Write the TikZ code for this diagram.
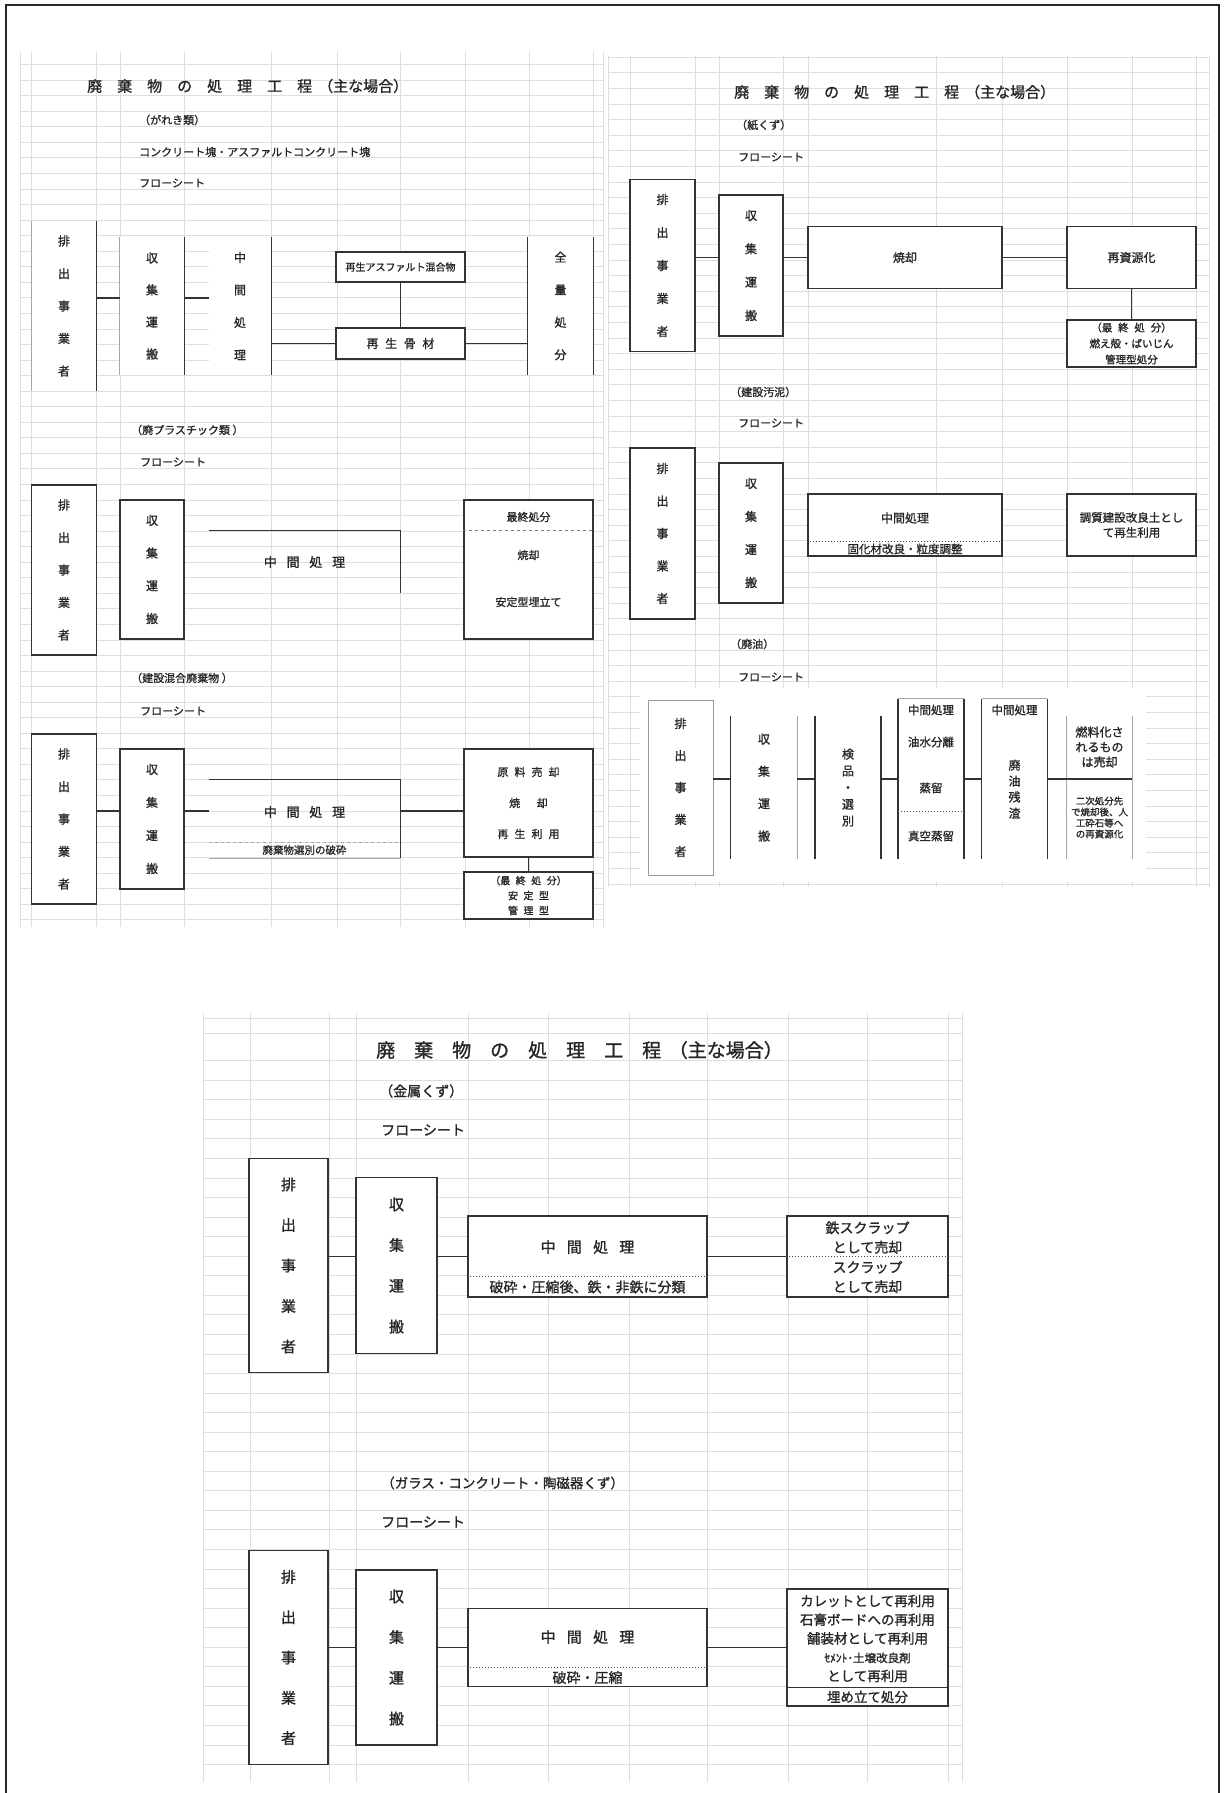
\documentclass[tikz,border=0pt]{standalone}
\usepackage{fontspec}
\newfontfamily\jp[FakeBold=1.2]{Noto Sans CJK JP}
\newcommand\tg{\hspace{1em}}
\newcommand\ws{\hspace{0.55em}}
\newcommand\ttltext{廃\tg 棄\tg 物\tg の\tg 処\tg 理\tg 工\tg 程\hspace{0.4em}（主な場合）}
\newcommand\chu{中\hspace{0.75em}間\hspace{0.75em}処\hspace{0.75em}理}
\tikzset{
  sheet/.style={draw=black!13, line width=0.7pt},
  box/.style={draw=black!80, line width=1.3pt, fill=white, inner sep=0pt, align=center, text=black!85},
  bare/.style={inner sep=0pt, align=center, text=black!85},
  side/.style={draw=black!80, line width=1.3pt},
  faint/.style={draw=black!35, line width=0.9pt},
  link/.style={draw=black!80, line width=1.6pt},
  divide/.style={draw=black!70, line width=1pt, dotted},
  fs/.style 2 args={font=\jp\fontsize{#1}{#2}\selectfont},
  lbl/.style={anchor=west, inner sep=0pt, text=black!85, fs={11}{13}},
  ttl/.style={anchor=west, inner sep=0pt, text=black!85, fs={15}{18}},
}
\begin{document}
\begin{tikzpicture}[x=1pt,y=-1pt]
\useasboundingbox (0,0) rectangle (1223,1793);
% spreadsheet cells
\foreach \k in {0,...,55}
\draw[sheet] (20,64.5+15.55*\k) -- (603,64.5+15.55*\k);
\foreach \x in {20,31,96,120,184,271,337,400,465,529,593,603}
\draw[sheet] (\x,52) -- (\x,927);
\foreach \k in {0,...,53}
\draw[sheet] (608,57.2+15.6*\k) -- (1209,57.2+15.6*\k);
\foreach \x in {608,630,695,719,783,808,936,1002,1067,1132,1196,1209}
\draw[sheet] (\x,56) -- (\x,887);
\fill[white] (640,688) rectangle (1146,882);
\foreach \k in {0,...,36}
\draw[sheet] (203,1060.6+19.55*\k) -- (962,1060.6+19.55*\k);
\foreach \y in {1018,1033}
\draw[sheet] (203,\y) -- (962,\y);
\foreach \x in {203,250,329,356,468,548,629,707,788,867,948,962}
\draw[sheet] (\x,1013) -- (\x,1782);
% frame
\draw[line width=2pt, black!85] (6,1793) -- (6,5) -- (1219,5) -- (1219,1793);
%%%% がれき類
\node[ttl] (ta) at (87,86) {\ttltext};
\node[lbl] (la1) at (139,120) {（がれき類）};
\node[lbl] (la2) at (139,152) {コンクリート塊・アスファルトコンクリート塊};
\node[lbl] (la3) at (139,183) {フローシート};
\node[bare, fill=white, minimum width=65, minimum height=170, fs={12}{32.5}] (a1) at (64,306) {排\\出\\事\\業\\者};
\draw[faint] (a1.north west) -- (a1.south west);
\draw[side] (a1.north east) -- (a1.south east);
\node[bare, fill=white, minimum width=64, minimum height=138, fs={12}{32}] (a2) at (152,306) {収\\集\\運\\搬};
\draw[faint] (a2.north west) -- (a2.south west);
\draw[side] (a2.north east) -- (a2.south east);
\node[bare, fill=white, minimum width=62, minimum height=138, fs={12}{32.5}] (a3) at (240,306) {中\\間\\処\\理};
\draw[side] (a3.north east) -- (a3.south east);
\node[box, minimum width=129, minimum height=30, fs={10}{12}] (a4) at (400.5,267) {再生アスファルト混合物};
\node[box, minimum width=129, minimum height=31, fs={12}{14}] (a5) at (400.5,343.5) {再\ws 生\ws 骨\ws 材};
\node[bare, fill=white, minimum width=65, minimum height=138, fs={12}{32.5}] (a6) at (560.5,306) {全\\量\\処\\分};
\draw[side] (a6.north west) -- (a6.south west) (a6.north east) -- (a6.south east);
\draw[link] ([yshift=8pt]a1.east) -- ([yshift=8pt]a2.west);
\draw[link] ([yshift=8pt]a2.east) -- ([yshift=8pt]a3.west);
\draw[link] (a3.east |- a5.west) -- (a5.west);
\draw[side] (a4.south) -- (a5.north);
\draw[link] (a5.east) -- (a6.west |- a5.east);
%%%% 廃プラスチック類
\node[lbl] (lb1) at (131,430) {（廃プラスチック類 ）};
\node[lbl] (lb2) at (140,462) {フローシート};
\node[box, minimum width=65, minimum height=170, fs={12}{32.5}] (b1) at (64,570) {排\\出\\事\\業\\者};
\node[box, minimum width=64, minimum height=139, fs={12}{32.7}] (b2) at (152,569.5) {収\\集\\運\\搬};
\node[bare, minimum width=191, minimum height=62, fs={13}{15}] (b3) at (304.5,562) {\chu};
\draw[side] (b3.north west) -- (b3.north east) -- (b3.south east);
\node[box, minimum width=129, minimum height=139] (b4) at (528.5,569.5) {};
\draw[side, dashed, black!50] ([yshift=-31pt]b4.north west) -- ([yshift=-31pt]b4.north east);
\node[bare, fs={11}{13}] (b4a) at (528.5,517) {最終処分};
\node[bare, fs={11}{13}] (b4b) at (528.5,555) {焼却};
\node[bare, fs={11}{13}] (b4c) at (528.5,602) {安定型埋立て};
%%%% 建設混合廃棄物
\node[lbl] (lc1) at (131,678) {（建設混合廃棄物 ）};
\node[lbl] (lc2) at (140,711) {フローシート};
\node[box, minimum width=65, minimum height=170, fs={12}{32.5}] (c1) at (64,819) {排\\出\\事\\業\\者};
\node[box, minimum width=64, minimum height=140, fs={12}{33}] (c2) at (152,819) {収\\集\\運\\搬};
\node[bare, minimum width=191, minimum height=78] (c3) at (304.5,819) {};
\draw[side] (c3.north west) -- (c3.north east) -- (c3.south east);
\draw[faint] (c3.south west) -- (c3.south east);
\draw[faint, dashed] ([yshift=16pt]c3.south west) -- ([yshift=16pt]c3.south east);
\node[bare, fs={13}{15}] (c3a) at (304.5,812) {\chu};
\node[bare, fs={10.5}{12}] (c3b) at (304.5,850) {廃棄物選別の破砕};
\node[box, minimum width=129, minimum height=108, fs={11}{31}] (c4) at (528.5,803) {原\ws 料\ws 売\ws 却\\焼\hspace{1.5em}却\\再\ws 生\ws 利\ws 用};
\node[box, minimum width=129, minimum height=47, fs={10}{15}] (c5) at (528.5,895.5) {（最\ws 終\ws 処\ws 分）\\安\ws 定\ws 型\\管\ws 理\ws 型};
\draw[link] ([yshift=8pt]c1.east) -- ([yshift=8pt]c2.west);
\draw[link] ([yshift=8pt]c2.east) -- ([yshift=8pt]c3.west);
\draw[link] ([yshift=8pt]c3.east) -- ([yshift=-8pt]c4.west);
\draw[side] (c4.south) -- (c5.north);
%%%% 紙くず
\node[ttl] (td) at (734,92) {\ttltext};
\node[lbl] (ld1) at (736,125) {（紙くず）};
\node[lbl] (ld2) at (738,157) {フローシート};
\node[box, minimum width=65, minimum height=172, fs={12}{33}] (d1) at (662.5,265.5) {排\\出\\事\\業\\者};
\node[box, minimum width=64, minimum height=141, fs={12}{33.3}] (d2) at (751,265.5) {収\\集\\運\\搬};
\node[box, minimum width=194, minimum height=62, fs={12}{14}] (d3) at (905,257.5) {焼却};
\node[box, minimum width=129, minimum height=62, fs={12}{14}] (d4) at (1131.5,257.5) {再資源化};
\node[box, minimum width=129, minimum height=47, fs={10.5}{16}] (d5) at (1131.5,343.5) {（最\ws 終\ws 処\ws 分）\\燃え殻・ばいじん\\管理型処分};
\draw[link] ([yshift=8pt]d1.east) -- ([yshift=8pt]d2.west);
\draw[link] ([yshift=8pt]d2.east) -- (d3.west);
\draw[link] (d3.east) -- (d4.west);
\draw[side] (d4.south) -- (d5.north);
%%%% 建設汚泥
\node[lbl] (le1) at (730,392) {（建設汚泥）};
\node[lbl] (le2) at (738,423) {フローシート};
\node[box, minimum width=65, minimum height=171, fs={12}{32.5}] (e1) at (662.5,533.5) {排\\出\\事\\業\\者};
\node[box, minimum width=64, minimum height=140, fs={12}{33}] (e2) at (751,533) {収\\集\\運\\搬};
\node[box, minimum width=194, minimum height=62] (e3) at (905,525) {};
\draw[divide] ([yshift=15pt]e3.south west) -- ([yshift=15pt]e3.south east);
\node[bare, fs={12}{14}] (e3a) at (905,518) {中間処理};
\node[bare, fs={11.5}{13}] (e3b) at (905,549) {固化材改良・粒度調整};
\node[box, minimum width=129, minimum height=62, fs={11.5}{15}] (e4) at (1131.5,525) {調質建設改良土とし\\て再生利用};
%%%% 廃油
\node[lbl] (lf1) at (730,644) {（廃油）};
\node[lbl] (lf2) at (738,677) {フローシート};
\node[box, draw=black!40, line width=0.9pt, minimum width=65, minimum height=175, fs={12}{32}] (f1) at (680.5,787.5) {排\\出\\事\\業\\者};
\node[bare, fill=white, minimum width=66, minimum height=143, fs={12}{32.3}] (f2) at (764,787.5) {収\\集\\運\\搬};
\draw[side] (f2.north west) -- (f2.south west);
\draw[faint] (f2.north east) -- (f2.south east);
\node[bare, fill=white, minimum width=65.5, minimum height=143, fs={12}{16.7}] (f3) at (848,787.5) {検\\品\\・\\選\\別};
\draw[side] (f3.north west) -- (f3.south west) (f3.north east) -- (f3.south east);
\node[bare, fill=white, minimum width=65.5, minimum height=160] (f4) at (931,779) {};
\draw[faint] (f4.north west) -- (f4.north east);
\draw[side] (f4.north west) -- (f4.south west) (f4.north east) -- (f4.south east);
\draw[divide] ([yshift=-113pt]f4.north west) -- ([yshift=-113pt]f4.north east);
\node[bare, fs={11.5}{13}] (f4a) at (931,710) {中間処理};
\node[bare, fs={11.5}{13}] (f4b) at (931,742) {油水分離};
\node[bare, fs={11.5}{13}] (f4c) at (931,788) {蒸留};
\node[bare, fs={11.5}{13}] (f4d) at (931,836) {真空蒸留};
\node[bare, fill=white, minimum width=65, minimum height=160] (f5) at (1014.5,779) {};
\draw[faint] (f5.north west) -- (f5.north east);
\draw[side] (f5.north west) -- (f5.south west) (f5.north east) -- (f5.south east);
\node[bare, fs={11.5}{13}] (f5a) at (1014.5,710) {中間処理};
\node[bare, fs={12}{16}] (f5b) at (1014.5,789) {廃\\油\\残\\渣};
\node[bare, fill=white, minimum width=65, minimum height=143] (f6) at (1099.5,787.5) {};
\draw[faint] (f6.north west) -- (f6.south west) (f6.north east) -- (f6.south east);
\node[bare, fs={12}{15}] (f6a) at (1099.5,747) {燃料化さ\\れるもの\\は売却};
\node[bare, fs={9.5}{11}] (f6b) at (1099.5,817.5) {二次処分先\\で焼却後、人\\工砕石等へ\\の再資源化};
\draw[link] ([yshift=8.5pt]f1.east) -- ([yshift=8.5pt]f2.west);
\draw[link] ([yshift=8.5pt]f2.east) -- ([yshift=8.5pt]f3.west);
\draw[link] ([yshift=8.5pt]f3.east) -- (f4.west);
\draw[link] (f4.east) -- (f5.west);
\draw[link] (f5.east) -- ([yshift=8.5pt]f6.east);
%%%% 金属くず
\node[ttl, fs={19}{21}] (tg) at (376,1050) {\ttltext};
\node[lbl, fs={14}{16}] (lg1) at (379,1091) {（金属くず）};
\node[lbl, fs={14}{16}] (lg2) at (381,1130) {フローシート};
\node[box, minimum width=79, minimum height=214, fs={15}{40.5}] (g1) at (288.5,1265.5) {排\\出\\事\\業\\者};
\node[box, minimum width=81, minimum height=176, fs={15}{40.7}] (g2) at (396.5,1265.5) {収\\集\\運\\搬};
\node[box, minimum width=239, minimum height=81] (g3) at (587.5,1256.5) {};
\draw[divide] ([yshift=21pt]g3.south west) -- ([yshift=21pt]g3.south east);
\node[bare, fs={15}{17}] (g3a) at (587.5,1247) {\chu};
\node[bare, fs={14}{16}] (g3b) at (587.5,1287) {破砕・圧縮後、鉄・非鉄に分類};
\node[box, minimum width=161, minimum height=81] (g4) at (867.5,1256.5) {};
\draw[divide] (g4.west) -- (g4.east);
\node[bare, fs={14}{19.5}] (g4a) at (867.5,1237.5) {鉄スクラップ\\として売却};
\node[bare, fs={14}{19.5}] (g4b) at (867.5,1277) {スクラップ\\として売却};
\draw[link] ([yshift=9pt]g1.east) -- ([yshift=9pt]g2.west);
\draw[link] ([yshift=9pt]g2.east) -- (g3.west);
\draw[link] (g3.east) -- (g4.west);
%%%% ガラス・コンクリート・陶磁器くず
\node[lbl, fs={13.5}{16}] (lh1) at (381,1483) {（ガラス・コンクリート・陶磁器くず）};
\node[lbl, fs={14}{16}] (lh2) at (381,1522) {フローシート};
\node[box, minimum width=79, minimum height=214, fs={15}{40.3}] (h1) at (288.5,1657.5) {排\\出\\事\\業\\者};
\node[box, minimum width=81, minimum height=175, fs={15}{40.7}] (h2) at (396.5,1657.5) {収\\集\\運\\搬};
\node[box, minimum width=239, minimum height=78] (h3) at (587.5,1647.5) {};
\draw[divide] ([yshift=19.5pt]h3.south west) -- ([yshift=19.5pt]h3.south east);
\node[bare, fs={15}{17}] (h3a) at (587.5,1637) {\chu};
\node[bare, fs={14}{16}] (h3b) at (587.5,1677.5) {破砕・圧縮};
\node[box, minimum width=161, minimum height=117] (h4) at (867.5,1647.5) {};
\draw[side] ([yshift=19pt]h4.south west) -- ([yshift=19pt]h4.south east);
\node[bare, fs={13.5}{18.75}] (h4a) at (867.5,1638.5) {カレットとして再利用\\石膏ボードへの再利用\\舗装材として再利用\\{\fontsize{11.5}{18.75}\selectfont ｾﾒﾝﾄ･土壌改良剤}\\として再利用};
\node[bare, fs={13.5}{16}] (h4b) at (867.5,1697) {埋め立て処分};
\draw[link] ([yshift=10pt]h1.east) -- ([yshift=10pt]h2.west);
\draw[link] ([yshift=10pt]h2.east) -- (h3.west);
\draw[link] (h3.east) -- (h4.west);
\end{tikzpicture}
\end{document}
